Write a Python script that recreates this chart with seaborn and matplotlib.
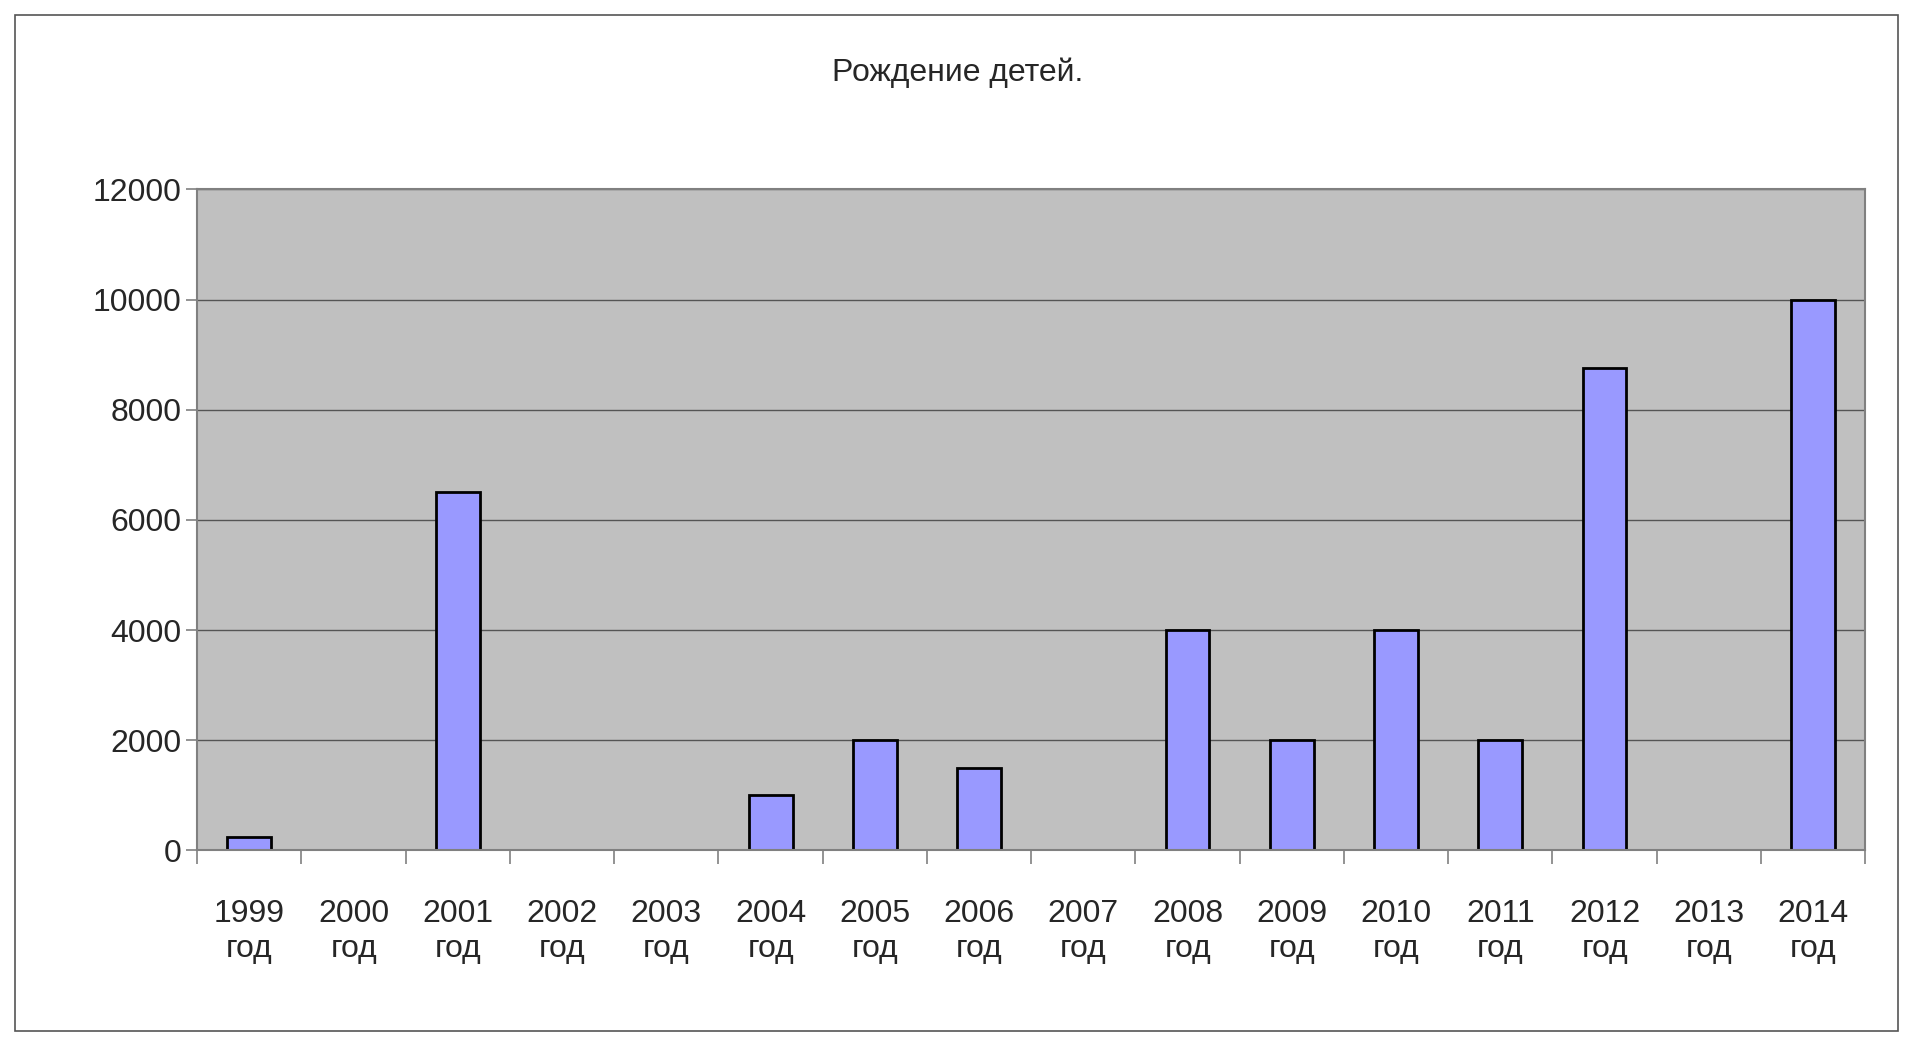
import matplotlib
matplotlib.use("Agg")
import matplotlib.pyplot as plt
import seaborn as sns
import pandas as pd
from matplotlib.patches import Rectangle

years = [f"{y}\nгод" for y in range(1999, 2015)]
births = [250, 0, 6500, 0, 0, 1000, 2000, 1500, 0, 4000, 2000, 4000, 2000, 8750, 0, 10000]

df = pd.DataFrame({"year": years, "births": births})

sns.set_theme(style="white")
plt.rcParams['font.family'] = ['Liberation Sans', 'DejaVu Sans']

fig = plt.figure(figsize=(19.15, 10.46), dpi=100)
fig.patches.append(Rectangle((0.008, 0.014), 0.983, 0.972, transform=fig.transFigure,
                             fill=False, edgecolor='#555555', linewidth=1.2))
ax = fig.add_axes([0.103, 0.187, 0.871, 0.632])
ax.set_facecolor('#c0c0c0')

sns.barplot(data=df, x="year", y="births", ax=ax, color="#9999ff",
            edgecolor="black", linewidth=2, width=0.42, saturation=1)

ax.set_ylim(0, 12000)
ax.set_yticks(range(0, 12001, 2000))
ax.set_xlim(-0.5, len(years) - 0.5)
ax.yaxis.grid(True, color='#555555', linewidth=1)
ax.set_axisbelow(True)
for s in ax.spines.values():
    s.set_color('#808080')
    s.set_linewidth(1.5)

ax.set_xticks([i - 0.5 for i in range(len(years) + 1)], minor=True)
ax.tick_params(axis='x', which='minor', length=10, width=1.2, color='#808080', direction='out', bottom=True)
ax.tick_params(axis='x', which='major', length=0, pad=35, labelsize=23)
ax.tick_params(axis='y', which='major', length=8, width=1.2, color='#808080', direction='out', left=True, labelsize=23)
ax.set_xlabel("")
ax.set_ylabel("")

fig.text(0.5, 0.93, "Рождение детей.", ha='center', va='center', fontsize=23)

fig.savefig("out.png", dpi=100)
